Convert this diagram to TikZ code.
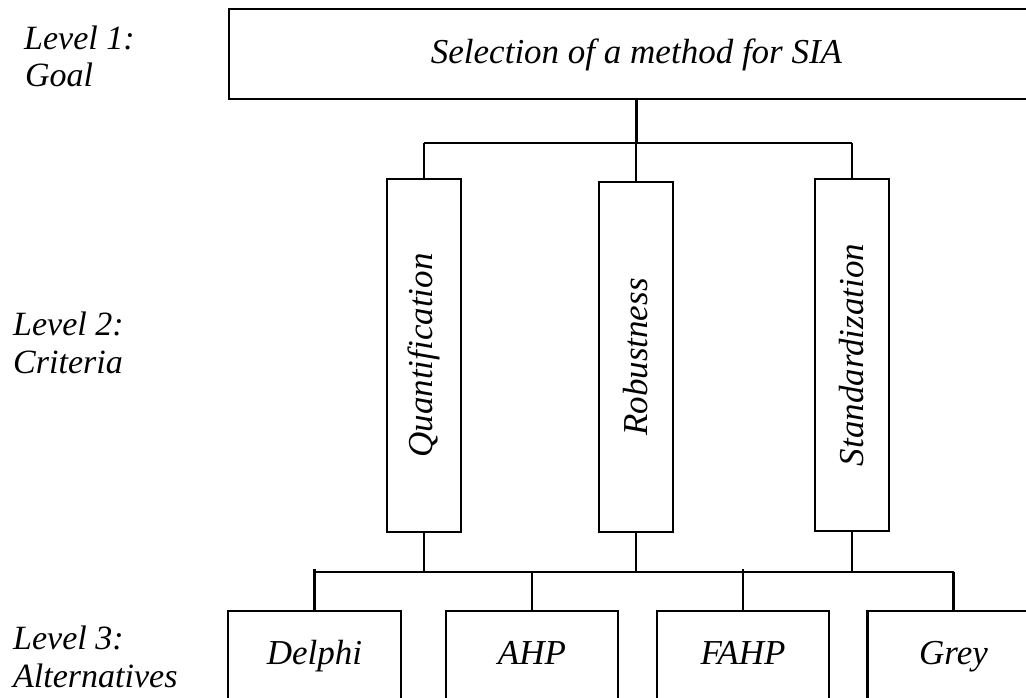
\documentclass[tikz,border=0pt]{standalone}
\usepackage{fontspec}
\setmainfont{Liberation Serif}
\begin{document}
\begin{tikzpicture}[x=1pt,y=-1pt,
  box/.style={draw=black, line width=2.6pt, fill=white, inner sep=0pt},
  conn/.style={draw=black, line width=2.2pt},
  lbl/.style={inner sep=0pt, font=\fontsize{35}{40}\selectfont\itshape},
  lvl/.style={inner sep=0pt, anchor=base west, font=\fontsize{34}{40}\selectfont\itshape}]
\useasboundingbox (0,0) rectangle (1026,697);
% Level 1
\node[box, minimum width=815pt, minimum height=90pt] (goal) at (636.5,54) {};
\node[lbl, anchor=base] (goaltxt) at ([yshift=-56pt]goal.north) {Selection of a method for SIA};
% Level 2
\node[box, minimum width=74pt, minimum height=353pt] (q) at (424,355.5) {};
\node[box, minimum width=74pt, minimum height=350pt] (r) at (636,357) {};
\node[box, minimum width=74pt, minimum height=352pt] (s) at (852,355) {};
\node[lbl, rotate=90] (qt) at (q.center) {Quantification};
\node[lbl, rotate=90] (rt) at (r.center) {Robustness};
\node[lbl, rotate=90] (st) at (s.center) {Standardization};
% Level 3
\node[box, minimum width=173pt, minimum height=120pt] (d) at (314.5,671) {};
\node[box, minimum width=172pt, minimum height=120pt] (a) at (532,671) {};
\node[box, minimum width=172pt, minimum height=120pt] (f) at (743,671) {};
\node[box, minimum width=172pt, minimum height=120pt] (g) at (953.5,671) {};
\node[lbl, anchor=base] (dt) at ([yshift=-55pt]d.north) {Delphi};
\node[lbl, anchor=base] (at) at ([yshift=-55pt]a.north) {AHP};
\node[lbl, anchor=base] (ft) at ([yshift=-55pt]f.north) {FAHP};
\node[lbl, anchor=base] (gt) at ([yshift=-55pt]g.north) {Grey};
% level labels
\node[lvl] (l1a) at (24,49) {Level 1:};
\node[lvl] (l1b) at (25,86) {Goal};
\node[lvl] (l2a) at (13,335) {Level 2:};
\node[lvl] (l2b) at (13,373) {Criteria};
\node[lvl] (l3a) at (13,649) {Level 3:};
\node[lvl] (l3b) at (13,687) {Alternatives};
% connectors
\coordinate (bus1) at (636,143);
\coordinate (bus2) at (636,572);
\draw[conn] (goal.south) -- (goal.south |- bus1);
\draw[conn] (q.north |- bus1) -- (s.north |- bus1);
\draw[conn] (q.north |- bus1) -- (q.north);
\draw[conn] (r.north |- bus1) -- (r.north);
\draw[conn] (s.north |- bus1) -- (s.north);
\draw[conn] (d.north |- bus2) -- (g.north |- bus2);
\draw[conn] (q.south) -- (q.south |- bus2);
\draw[conn] (r.south) -- (r.south |- bus2);
\draw[conn] (s.south) -- (s.south |- bus2);
\draw[conn] ([yshift=3pt]d.north |- bus2) -- (d.north);
\draw[conn] (a.north |- bus2) -- (a.north);
\draw[conn] ([yshift=3pt]f.north |- bus2) -- (f.north);
\draw[conn] (g.north |- bus2) -- (g.north);
\end{tikzpicture}
\end{document}
